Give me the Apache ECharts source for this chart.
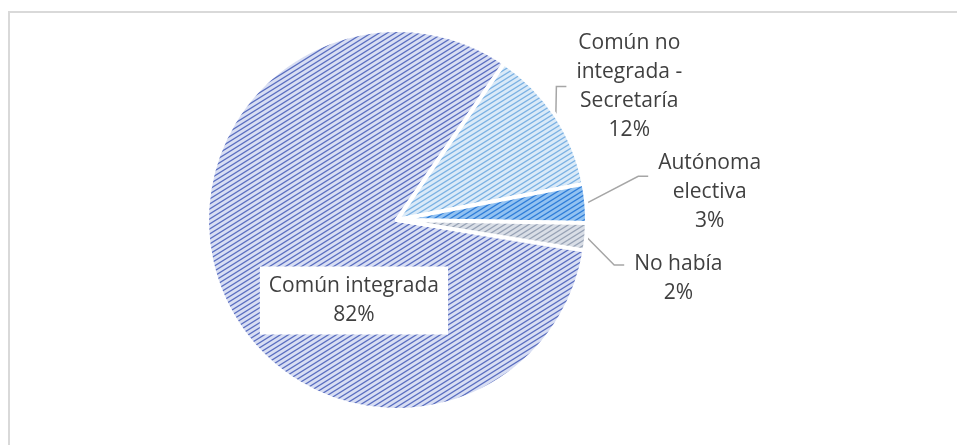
<!DOCTYPE html>
<html>
<head>
<meta charset="utf-8">
<script src="https://cdn.jsdelivr.net/npm/echarts@6/dist/echarts.min.js"></script>
<style>
  html, body { margin: 0; padding: 0; background: #fff; }
  #chart { width: 957px; height: 445px; }
</style>
</head>
<body>
<div id="chart"></div>
<script>
// datos del gráfico
var categories = ['Común integrada', 'Común no integrada - Secretaría', 'Autónoma electiva', 'No había'];
var labelLines = [['Común integrada'], ['Común no', 'integrada -', 'Secretaría'], ['Autónoma', 'electiva'], ['No había']];
var values = [82.0, 12.4, 3.3, 2.3];
var fills = [['#d8def3', '#5a6ec0'], ['#daeaf8', '#7ab1e3'], ['#92c2f1', '#2e7dd9'], ['#d9dee6', '#97a2b5']];

// ajustes de las etiquetas (desplazamiento y punto de unión de la línea guía)
var labelNudge = [[0, 0], [-7, -21], [42, -10], [18, 40]];
var anchorFrac = [0.5, 0.5, 0.3, 0.24];

var FONT = 'Open Sans';

// relleno de rayas diagonales como el de Excel
function stripes(bg, fg) {
    var w = 8, h = 5;
    var c = document.createElement('canvas');
    c.width = w;
    c.height = h;
    var ctx = c.getContext('2d');
    ctx.fillStyle = bg;
    ctx.fillRect(0, 0, w, h);
    ctx.strokeStyle = fg;
    ctx.lineWidth = 1.3;
    for (var k = -1; k <= 1; k++) {
        ctx.beginPath();
        ctx.moveTo(k * w - 0.8, h + 0.5);
        ctx.lineTo(k * w + w + 0.8, -0.5);
        ctx.stroke();
    }
    return c;
}

var pieData = categories.map(function (name, i) {
    var item = {
        name: name,
        value: values[i],
        itemStyle: { color: { image: stripes(fills[i][0], fills[i][1]), repeat: 'repeat' } }
    };
    if (i === 0) {
        item.label = {
            position: 'inside',
            backgroundColor: '#fff',
            padding: [5, 9],
            offset: [47, 42]
        };
        item.labelLine = { show: false };
    }
    return item;
});

var chart = echarts.init(document.getElementById('chart'));
chart.setOption({
    animation: false,
    graphic: [{
        type: 'rect',
        shape: { x: 9, y: 12, width: 960, height: 450 },
        style: { fill: 'none', stroke: '#d9d9d9', lineWidth: 2 },
        silent: true
    }],
    series: [{
        type: 'pie',
        center: [397, 220],
        radius: 190,
        startAngle: -9.2,
        clockwise: true,
        avoidLabelOverlap: false,
        itemStyle: { borderColor: '#fff', borderWidth: 4 },
        label: {
            position: 'outside',
            formatter: function (p) {
                var lines = labelLines[p.dataIndex].concat([Math.round(p.percent) + '%']);
                return lines.map(function (l) { return '{t|' + l + '}'; }).join('\n');
            },
            rich: {
                t: { align: 'center', fontFamily: FONT, fontSize: 21, lineHeight: 29, color: '#404040' }
            }
        },
        labelLine: {
            show: true,
            length: 15,
            length2: 10,
            lineStyle: { color: '#a6a6a6', width: 1.5 }
        },
        labelLayout: function (params) {
            var i = params.dataIndex;
            if (i === 0 || !params.labelLinePoints) {
                return {};
            }
            var r = params.labelRect;
            var dx = labelNudge[i][0], dy = labelNudge[i][1];
            var left = r.x + dx;
            var ay = r.y + dy + r.height * anchorFrac[i];
            var p0 = params.labelLinePoints[0];
            var x2 = left - 10;
            var x1 = Math.max(p0[0], x2 - 10);
            return {
                dx: dx,
                dy: dy,
                labelLinePoints: [[p0[0], p0[1]], [x1, ay], [x2, ay]]
            };
        },
        data: pieData
    }]
});
</script>
</body>
</html>
